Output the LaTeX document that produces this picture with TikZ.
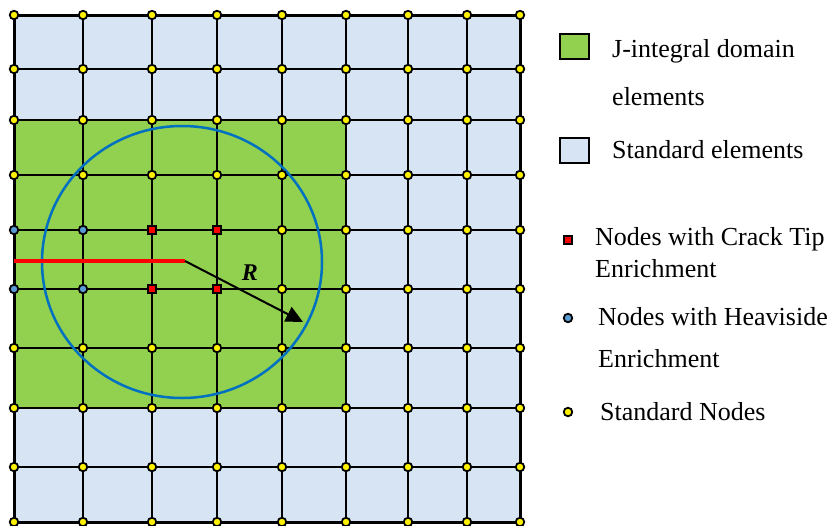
\documentclass[tikz,border=0pt]{standalone}
\usepackage{fontspec}
\setmainfont{Liberation Serif}
\usetikzlibrary{arrows.meta,calc}
\definecolor{jgreen}{RGB}{146,208,80}
\definecolor{stdblue}{RGB}{215,228,243}
\definecolor{circblue}{RGB}{0,112,192}
\definecolor{heavblue}{RGB}{91,155,213}

\begin{document}
\begin{tikzpicture}[x=1pt, y=-1pt,
    meshline/.style={line width=2pt},
    stdnode/.style={circle, draw, line width=1.8pt, fill=yellow, inner sep=0pt, minimum size=8.5pt},
    heavnode/.style={circle, draw, line width=1.8pt, fill=heavblue, inner sep=0pt, minimum size=8.5pt},
    tipnode/.style={rectangle, draw, line width=1.5pt, fill=red, inner sep=0pt, minimum size=8pt},
    kind0/.style={stdnode}, kind1/.style={heavnode}, kind2/.style={tipnode},
    crack/.style={red, line width=4pt},
    jcircle/.style={circblue, line width=2.5pt},
    rarrow/.style={-{Triangle[length=17pt, width=16pt]}, line width=2pt},
    legbox/.style={draw, line width=2pt, minimum width=29pt, minimum height=25pt, inner sep=0pt},
    legtext/.style={anchor=base west, align=left, inner sep=0pt, font=\fontsize{26}{31.7}\selectfont}
]
\useasboundingbox (0,0) rectangle (833,525);

% mesh points
\foreach \x [count=\i] in {14,83,152,217,282,346,408,467,520}
  \foreach \y [count=\j] in {15,69,120,175,230,289,348,408,467,522}
    \coordinate (p-\i-\j) at (\x,\y);

% elements
\fill[stdblue] (p-1-1) rectangle (p-9-10);
\fill[jgreen] (p-1-3) rectangle (p-6-8);
\foreach \i in {1,...,9}
  \draw[meshline] (p-\i-1) -- (p-\i-10);
\foreach \j in {1,...,10}
  \draw[meshline] (p-1-\j) -- (p-9-\j);
\draw[line width=3pt] (p-1-1) rectangle (p-9-10);

% crack and J-integral domain
\coordinate (mouth) at (14,261);
\coordinate (tip) at (185,261);
\coordinate (jc) at (182,262);
\coordinate (rend) at (303,322);
\draw[jcircle] (jc) ellipse [x radius=140, y radius=136];
\draw[crack] (mouth) -- (tip);
\draw[rarrow] (tip) -- (rend);
\node[font=\fontsize{24}{24}\selectfont\bfseries\itshape] (rlabel) at (250,273) {R};

% nodes
\foreach \i in {1,...,9}
  \foreach \j in {1,...,10} {
    \pgfmathtruncatemacro\kind{or(\j==5,\j==6)*((\i<3)+2*and(\i>2,\i<5))}
    \node[kind\kind] (n-\i-\j) at (p-\i-\j) {};
  }

% legend
\node[legbox, fill=jgreen] (legj) at (574.5,46.5) {};
\node[legtext] (txtj) at (612,105) {J-integral domain\\[16pt]elements};
\node[legbox, fill=stdblue] (legs) at (574.5,150.5) {};
\node[legtext] (txts) at (612,158) {Standard elements};
\node[tipnode] (legt) at (568,240) {};
\node[legtext] (txtt) at (595,277) {Nodes with Crack Tip\\Enrichment};
\node[heavnode] (legh) at (568,318) {};
\node[legtext] (txth) at (598,367) {Nodes with Heaviside\\[10pt]Enrichment};
\node[stdnode] (legn) at (568,412) {};
\node[legtext] (txtn) at (600,420) {Standard Nodes};
\end{tikzpicture}
\end{document}
